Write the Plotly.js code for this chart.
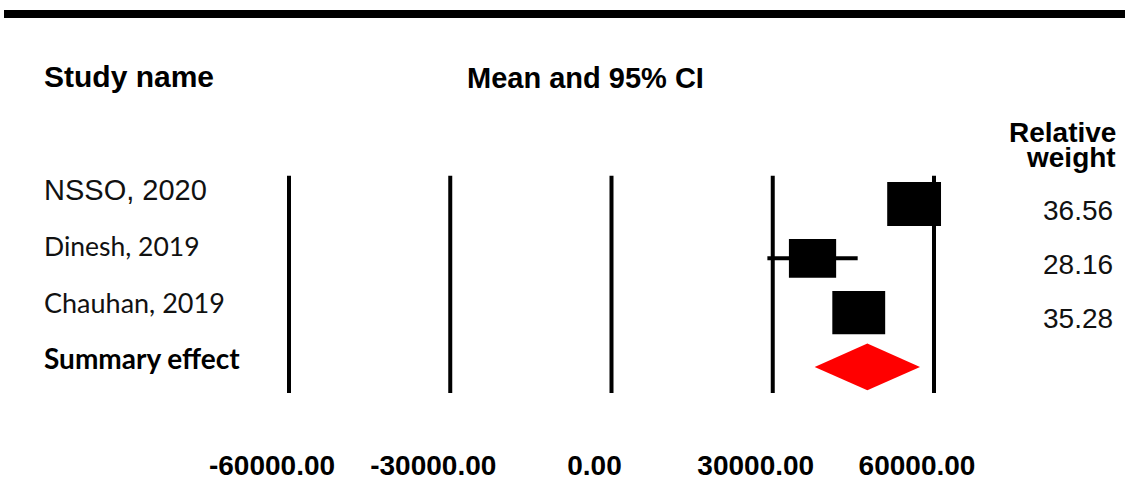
<!DOCTYPE html>
<html>
<head>
<meta charset="utf-8">
<script src="https://cdn.plot.ly/plotly-3.0.1.min.js"></script>
<style>
  html, body { margin: 0; padding: 0; background: #ffffff; }
  #chart { width: 1125px; height: 484px; }
</style>
</head>
<body>
<div id="chart"></div>
<script>
// ---- data ----
const studies   = ["NSSO, 2020", "Dinesh, 2019", "Chauhan, 2019"];
const means     = [56300, 37400, 46000];
const lowerCI   = [54500, 29000, 44500];
const upperCI   = [58000, 45800, 47500];
const weights   = [36.56, 28.16, 35.28];
const summaryLabel = "Summary effect";
const summaryMean  = 47600;
const summaryLower = 37800;
const summaryUpper = 57400;
const tickValues = [-60000, -30000, 0, 30000, 60000];
const tickLabels = ["-60000.00", "-30000.00", "0.00", "30000.00", "60000.00"];

// ---- layout helpers ----
const W = 1125, H = 484;
const px = v => v / W;
const py = v => 1 - v / H;
const rows = studies.map((_, i) => i);
const summaryRow = studies.length;

const traces = [];
// CI whiskers
rows.forEach(i => {
  traces.push({
    type: "scatter", mode: "lines",
    x: [lowerCI[i], upperCI[i]], y: [i, i],
    line: { color: "#000000", width: 4 },
    hoverinfo: "skip", showlegend: false
  });
});
// summary diamond
traces.push({
  type: "scatter", mode: "lines",
  x: [summaryLower, summaryMean, summaryUpper, summaryMean, summaryLower],
  y: [summaryRow, summaryRow - 0.43, summaryRow, summaryRow + 0.43, summaryRow],
  fill: "toself", fillcolor: "#ff0000",
  line: { color: "#ff0000", width: 0 },
  hoverinfo: "skip", showlegend: false
});

const shapes = [];
// top black rule
shapes.push({ type: "rect", xref: "paper", yref: "paper",
  x0: px(4), x1: 1, y0: py(18), y1: py(10),
  fillcolor: "#000000", line: { width: 0 } });
// vertical reference lines
tickValues.forEach(v => {
  shapes.push({ type: "line", xref: "x", yref: "y",
    x0: v, x1: v, y0: -0.52, y1: summaryRow + 0.48,
    line: { color: "#000000", width: 4 }, layer: "below" });
});
// study boxes (area ~ weight)
rows.forEach(i => {
  const s = Math.sqrt(weights[i]);
  const bw = 8.9 * s, bh = 7.3 * s;
  shapes.push({ type: "rect", xref: "x", yref: "y",
    xsizemode: "pixel", ysizemode: "pixel",
    xanchor: means[i], yanchor: i,
    x0: -bw / 2, x1: bw / 2, y0: -bh / 2, y1: bh / 2,
    fillcolor: "#000000", line: { width: 0 }, layer: "above" });
});

const ARIAL = "Liberation Sans, Arial, sans-serif";
const CALIBRI = "Lato, Carlito, Calibri, sans-serif";
const annotations = [];
annotations.push({ text: "<b>Study name</b>", xref: "paper", yref: "paper",
  x: px(42), y: py(77), xanchor: "left", yanchor: "middle", showarrow: false,
  font: { family: ARIAL, size: 30, color: "#000000" } });
annotations.push({ text: "<b>Mean and 95% CI</b>", xref: "paper", yref: "paper",
  x: px(585), y: py(78), xanchor: "center", yanchor: "middle", showarrow: false,
  font: { family: ARIAL, size: 29, color: "#000000" } });
annotations.push({ text: "<b>Relative</b>", xref: "paper", yref: "paper",
  x: px(1118), y: py(132), xanchor: "right", yanchor: "middle", showarrow: false,
  font: { family: ARIAL, size: 28, color: "#000000" } });
annotations.push({ text: "<b>weight</b>", xref: "paper", yref: "paper",
  x: px(1118), y: py(157), xanchor: "right", yanchor: "middle", showarrow: false,
  font: { family: ARIAL, size: 28, color: "#000000" } });

// study names
const nameFonts = [
  { family: ARIAL, size: 29 },
  { family: CALIBRI, size: 26.5 },
  { family: CALIBRI, size: 27 }
];
const nameShift = [14, 12, 10];
rows.forEach(i => {
  annotations.push({ text: studies[i], xref: "paper", yref: "y",
    x: px(42), y: i, yshift: nameShift[i], xanchor: "left", yanchor: "middle",
    showarrow: false, font: Object.assign({ color: "#111111" }, nameFonts[i]) });
  annotations.push({ text: weights[i].toFixed(2), xref: "paper", yref: "y",
    x: px(1115), y: i, yshift: -6, xanchor: "right", yanchor: "middle",
    showarrow: false, font: { family: ARIAL, size: 28, color: "#111111" } });
});
annotations.push({ text: "<b>" + summaryLabel + "</b>", xref: "paper", yref: "y",
  x: px(42), y: summaryRow, yshift: 9, xanchor: "left", yanchor: "middle",
  showarrow: false, font: { family: CALIBRI, size: 28, color: "#000000" } });

// x scale: -60000 at 289px, 60000 at 934px; plot area padded so boxes are not clipped
const xPad = 66000;
const zeroPx = 611.5, unitPx = (934 - 289) / 120000;
const rowPitch = 54.3, row0 = 204, plotBottom = 440;
const layout = {
  width: W, height: H,
  margin: { l: 0, r: 0, t: 0, b: 0, pad: 0 },
  paper_bgcolor: "#ffffff", plot_bgcolor: "#ffffff",
  showlegend: false,
  xaxis: {
    domain: [px(zeroPx - xPad * unitPx), px(zeroPx + xPad * unitPx)],
    range: [-xPad, xPad],
    showgrid: false, zeroline: false, showline: false,
    ticks: "", tickmode: "array", tickvals: tickValues, ticktext: tickLabels,
    tickfont: { family: ARIAL, size: 28, color: "#000000", weight: "bold" },
    ticklabelshift: -17, ticklabelstandoff: 6,
    fixedrange: true
  },
  yaxis: {
    domain: [1 - plotBottom / H, 1],
    range: [(plotBottom - row0) / rowPitch, -row0 / rowPitch],
    showgrid: false, zeroline: false, showline: false, showticklabels: false,
    ticks: "", fixedrange: true
  },
  shapes: shapes,
  annotations: annotations
};

Plotly.newPlot("chart", traces, layout, { displayModeBar: false, staticPlot: true });
</script>
</body>
</html>
